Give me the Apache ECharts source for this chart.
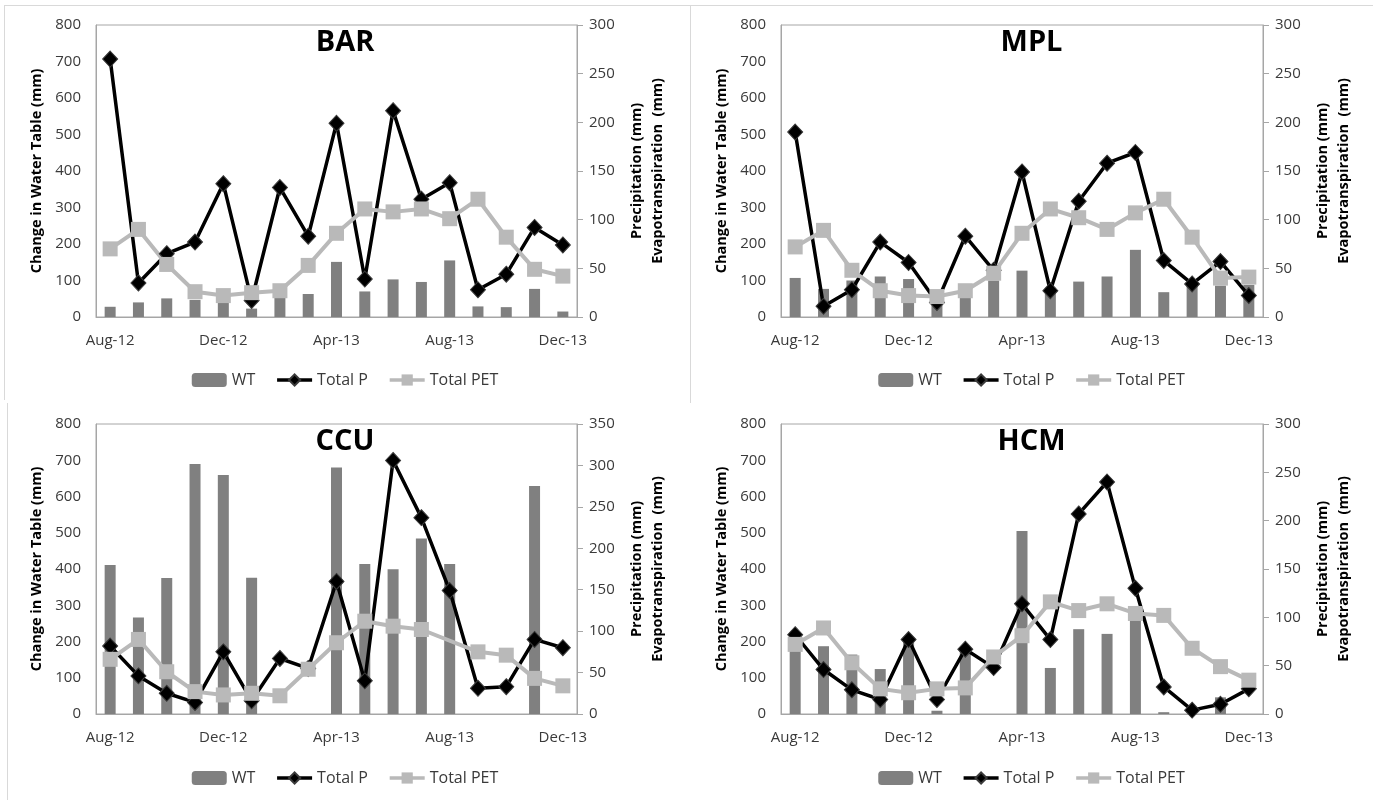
<!DOCTYPE html>
<html>

<head>
    <meta charset="utf-8">
    <script src="https://cdn.jsdelivr.net/npm/echarts@6/dist/echarts.min.js"></script>
    <style>
        * {
            padding: 0;
            margin: 0
        }

        body {
            width: 1373px;
            height: 800px;
            background: #fff;
            position: relative;
            overflow: hidden
        }

        .panel {
            position: absolute;
            height: 400px
        }

        .rule {
            position: absolute;
            background: #d9d9d9
        }
    </style>
</head>

<body>
    <div class="rule" style="left:4px;top:5px;width:1369px;height:1px"></div>
    <div class="rule" style="left:4px;top:5px;width:1px;height:395px"></div>
    <div class="rule" style="left:690px;top:5px;width:1px;height:398px"></div>
    <div class="rule" style="left:7px;top:403px;width:1px;height:397px"></div>

    <div id="bar" class="panel" style="left:0;top:0;width:690px"></div>
    <div id="mpl" class="panel" style="left:690px;top:0;width:683px"></div>
    <div id="ccu" class="panel" style="left:0;top:400px;width:690px"></div>
    <div id="hcm" class="panel" style="left:690px;top:400px;width:683px"></div>
</body>
<script>
    const months = ['Aug-12', 'Sep-12', 'Oct-12', 'Nov-12', 'Dec-12', 'Jan-13', 'Feb-13', 'Mar-13',
        'Apr-13', 'May-13', 'Jun-13', 'Jul-13', 'Aug-13', 'Sep-13', 'Oct-13', 'Nov-13', 'Dec-13'];

    // BAR
    const barWT = [28, 40, 51, 47, 43, 23, 54, 63, 151, 70, 103, 96, 155, 29, 27, 77, 15];
    const barP = [265, 35, 65, 77, 137, 17, 133, 83, 199, 39, 212, 121, 138, 28, 44, 92, 74];
    const barPET = [70, 90, 54, 26, 22, 25, 27, 53, 86, 111, 108, 111, 101, 121, 82, 49, 42];

    // MPL
    const mplWT = [107, 77, 100, 111, 104, 45, 60, 100, 127, 80, 97, 111, 184, 68, 90, 86, 88];
    const mplP = [190, 11, 28, 77, 56, 15, 83, 48, 149, 27, 119, 158, 169, 58, 34, 57, 22];
    const mplPET = [72, 89, 48, 27, 22, 21, 27, 45, 86, 111, 102, 90, 107, 121, 82, 40, 41];

    // CCU
    const ccuWT = [411, 266, 375, 690, 659, 376, null, null, 680, 414, 399, 484, 414, null, null, 629, null];
    const ccuP = [82, 46, 25, 14, 75, 16, 67, 55, 160, 40, 306, 237, 149, 31, 33, 90, 80];
    const ccuPET = [66, 90, 51, 27, 23, 25, 22, 54, 86, 112, 106, 102, null, 75, 71, 43, 34];

    // HCM
    const hcmWT = [200, 187, 164, 124, 198, 9, 178, null, 505, 127, 234, 221, 262, 5, null, 46, null];
    const hcmP = [82, 46, 25, 15, 77, 15, 67, 48, 114, 77, 207, 240, 130, 28, 4, 10, 26];
    const hcmPET = [72, 89, 53, 26, 22, 26, 27, 59, 81, 116, 107, 114, 104, 102, 68, 49, 35];

    const FONT = '"Open Sans", "Liberation Sans", sans-serif';
    const AXIS_GRAY = '#a6a6a6';
    const LABEL = '#3a3a3a';

    function makeOption(title, wt, p, pet, rightMax, gridLeft, gridRight, gridTop, gridBottom, legendTop) {
        return {
            animation: false,
            textStyle: { fontFamily: FONT },
            title: {
                text: title,
                left: 'center',
                top: gridTop - 2,
                textStyle: { fontFamily: FONT, fontSize: 29, fontWeight: 'bold', color: '#000' }
            },
            legend: {
                top: legendTop,
                left: 'center',
                itemWidth: 35,
                itemHeight: 14,
                itemGap: 20,
                lineStyle: { width: 3.5 },
                textStyle: { fontFamily: FONT, fontSize: 16, color: LABEL },
                data: ['WT', 'Total P', 'Total PET']
            },
            grid: {
                left: gridLeft, right: gridRight, top: gridTop, bottom: gridBottom,
                show: true, borderColor: AXIS_GRAY, borderWidth: 1
            },
            xAxis: {
                type: 'category',
                data: months,
                boundaryGap: true,
                axisLine: { lineStyle: { color: AXIS_GRAY } },
                axisTick: { interval: 3, length: 6, lineStyle: { color: AXIS_GRAY } },
                axisLabel: { interval: 3, margin: 16, fontSize: 15, color: LABEL, fontFamily: FONT }
            },
            yAxis: [{
                type: 'value',
                min: 0, max: 800, interval: 100,
                name: 'Change in Water Table (mm)',
                nameLocation: 'middle',
                nameGap: 47,
                nameTextStyle: { fontFamily: FONT, fontSize: 14.5, fontWeight: 'bold', color: '#000' },
                axisLine: { show: true, lineStyle: { color: AXIS_GRAY } },
                axisTick: { show: false },
                splitLine: { show: false },
                axisLabel: { margin: 15, fontSize: 15, color: LABEL, fontFamily: FONT }
            }, {
                type: 'value',
                position: 'right',
                min: 0, max: rightMax, interval: 50,
                name: 'Precipitation (mm)\nEvapotranspiration  (mm)',
                nameLocation: 'middle',
                nameGap: 49,
                nameTextStyle: { fontFamily: FONT, fontSize: 14.5, fontWeight: 'bold', color: '#000', lineHeight: 21 },
                axisLine: { show: true, lineStyle: { color: AXIS_GRAY } },
                axisTick: { show: true, length: 6, lineStyle: { color: AXIS_GRAY } },
                splitLine: { show: false },
                axisLabel: { margin: 12, fontSize: 15, color: LABEL, fontFamily: FONT }
            }],
            series: [{
                name: 'WT',
                type: 'bar',
                yAxisIndex: 0,
                data: wt,
                barWidth: 11,
                itemStyle: { color: '#808080' }
            }, {
                name: 'Total P',
                type: 'line',
                yAxisIndex: 1,
                data: p,
                connectNulls: true,
                symbol: 'diamond',
                symbolSize: [15, 16],
                lineStyle: { color: '#000', width: 3.5 },
                itemStyle: { color: '#000', borderColor: '#3a3a3a', borderWidth: 1 }
            }, {
                name: 'Total PET',
                type: 'line',
                yAxisIndex: 1,
                data: pet,
                connectNulls: true,
                symbol: 'rect',
                symbolSize: 15,
                lineStyle: { color: '#b9b9b9', width: 4 },
                itemStyle: { color: '#b9b9b9' }
            }]
        };
    }

    const panels = [
        ['bar', 'BAR', barWT, barP, barPET, 300, 96, 113, 25, 83, 367],
        ['mpl', 'MPL', mplWT, mplP, mplPET, 300, 91, 110, 25, 83, 367],
        ['ccu', 'CCU', ccuWT, ccuP, ccuPET, 350, 96, 113, 24, 86, 365],
        ['hcm', 'HCM', hcmWT, hcmP, hcmPET, 300, 91, 110, 24, 86, 365]
    ];

    panels.forEach(function (cfg) {
        const chart = echarts.init(document.getElementById(cfg[0]));
        chart.setOption(makeOption.apply(null, cfg.slice(1)));
    });
</script>

</html>
